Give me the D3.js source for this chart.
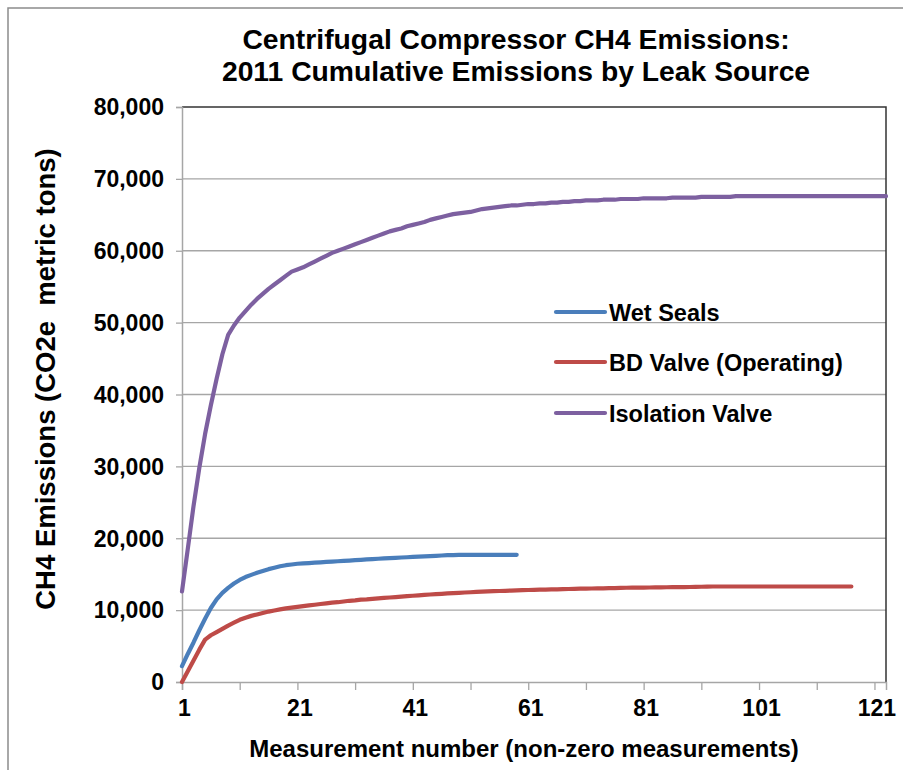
<!DOCTYPE html>
<html>
<head>
<meta charset="utf-8">
<script src="https://cdn.jsdelivr.net/npm/d3@7"></script>
<style>
  html, body { margin: 0; padding: 0; background: #fff; }
  svg text { font-family: "Liberation Sans", Arial, sans-serif; font-weight: bold; fill: #000; }
</style>
</head>
<body>
<svg id="chart" width="903" height="770"></svg>
<script>
// ---------------- DATA ----------------
const titleLines = ["Centrifugal Compressor CH4 Emissions:", "2011 Cumulative Emissions by Leak Source"];
const yAxisTitle = "CH4 Emissions (CO2e\u00a0\u00a0metric tons)";
const xAxisTitle = "Measurement number (non-zero measurements)";
const seriesNames = ["Wet Seals", "BD Valve (Operating)", "Isolation Valve"];
const yTicks = [0, 10000, 20000, 30000, 40000, 50000, 60000, 70000, 80000];
const xTickLabels = [1, 21, 41, 61, 81, 101, 121];

const wetSeals = [
  2200, 3900, 5500, 7200, 8800, 10300, 11500, 12400, 13100, 13700,
  14200, 14600, 14900, 15200, 15450, 15700, 15900, 16100, 16250, 16350,
  16450, 16500, 16550, 16600, 16650, 16700, 16750, 16800, 16850, 16900,
  16950, 17000, 17050, 17100, 17150, 17200, 17240, 17280, 17320, 17360,
  17400, 17440, 17480, 17520, 17560, 17600, 17640, 17660, 17680, 17700,
  17700, 17700, 17700, 17700, 17700, 17700, 17700, 17700, 17700
];

const bdValve = [
  0, 1500, 3000, 4500, 5900, 6500, 6950, 7400, 7850, 8250,
  8650, 8950, 9200, 9400, 9600, 9800, 9950, 10100, 10250, 10350,
  10450, 10550, 10650, 10750, 10850, 10950, 11050, 11100, 11200, 11300,
  11350, 11450, 11500, 11570, 11640, 11700, 11760, 11820, 11880, 11940,
  12000, 12060, 12120, 12170, 12220, 12270, 12320, 12370, 12410, 12450,
  12490, 12530, 12570, 12600, 12630, 12660, 12690, 12720, 12750, 12780,
  12800, 12820, 12840, 12860, 12880, 12900, 12920, 12940, 12960, 12980,
  13000, 13010, 13020, 13030, 13050, 13070, 13100, 13110, 13120, 13130,
  13140, 13150, 13160, 13170, 13180, 13190, 13200, 13210, 13220, 13230,
  13250, 13280, 13290, 13290, 13290, 13290, 13290, 13290, 13290, 13290,
  13290, 13290, 13290, 13290, 13290, 13290, 13290, 13290, 13290, 13290,
  13290, 13290, 13290, 13290, 13290, 13290, 13290
];

const isolationValve = [
  12600, 18500, 24500, 29800, 34500, 38500, 42200, 45600, 48300, 49600,
  50700, 51600, 52500, 53300, 54000, 54700, 55300, 55900, 56500, 57100,
  57400, 57700, 58100, 58500, 58900, 59300, 59700, 60000, 60300, 60600,
  60900, 61200, 61500, 61800, 62100, 62400, 62700, 62900, 63100, 63400,
  63600, 63800, 64000, 64300, 64500, 64700, 64900, 65100, 65200, 65300,
  65400, 65600, 65800, 65900, 66000, 66100, 66200, 66300, 66300, 66400,
  66500, 66500, 66600, 66600, 66700, 66700, 66800, 66800, 66900, 66900,
  67000, 67000, 67000, 67100, 67100, 67100, 67200, 67200, 67200, 67200,
  67300, 67300, 67300, 67300, 67300, 67400, 67400, 67400, 67400, 67400,
  67500, 67500, 67500, 67500, 67500, 67500, 67600, 67600, 67600, 67600,
  67600, 67600, 67600, 67600, 67600, 67600, 67600, 67600, 67600, 67600,
  67600, 67600, 67600, 67600, 67600, 67600, 67600, 67600, 67600, 67600,
  67600, 67600, 67600
];

const seriesColors = ["#4a7ebb", "#be4b48", "#7d60a0"];

// ---------------- LAYOUT ----------------
const svg = d3.select("#chart");
const plot = { left: 182, right: 886, top: 107, bottom: 682 };

const x = d3.scaleLinear().domain([1, 123]).range([plot.left, plot.right]);
const y = d3.scaleLinear().domain([0, 80000]).range([plot.bottom, plot.top]);

// outer chart frame
svg.append("rect")
  .attr("x", 8).attr("y", 8).attr("width", 1000).attr("height", 1000)
  .attr("fill", "none").attr("stroke", "#8c8c8c").attr("stroke-width", 1.5);

// gridlines
svg.append("g")
  .selectAll("line")
  .data(yTicks.filter(d => d > 0 && d < 80000))
  .join("line")
  .attr("x1", plot.left).attr("x2", plot.right)
  .attr("y1", d => y(d)).attr("y2", d => y(d))
  .attr("stroke", "#a6a6a6").attr("stroke-width", 1.3);

// plot border top & right (dark)
svg.append("path")
  .attr("d", `M${plot.left},${plot.top}H${plot.right}V${plot.bottom}`)
  .attr("fill", "none").attr("stroke", "#333").attr("stroke-width", 1.5);

// y axis
const yAxis = d3.axisLeft(y).tickValues(yTicks).tickSize(6).tickPadding(12)
  .tickFormat(d3.format(","));
const gy = svg.append("g").attr("transform", `translate(${plot.left},0)`).call(yAxis);
gy.select(".domain").attr("stroke", "#a6a6a6").attr("stroke-width", 1.5);
gy.selectAll(".tick line").attr("stroke", "#a6a6a6").attr("stroke-width", 1.3);
gy.selectAll(".tick text")
  .style("font-family", '"Liberation Sans", Arial, sans-serif')
  .style("font-weight", "bold").style("font-size", "23px").attr("fill", "#000")
  .attr("dy", "0.34em");

// x axis
const xAxis = d3.axisBottom(x).tickValues(d3.range(1, 123, 10)).tickSize(8)
  .tickFormat(d => xTickLabels.includes(d) ? d : "").tickPadding(10);
const gx = svg.append("g").attr("transform", `translate(0,${plot.bottom})`).call(xAxis);
gx.select(".domain").attr("stroke", "#a6a6a6").attr("stroke-width", 1.5);
gx.selectAll(".tick line").attr("stroke", "#a6a6a6").attr("stroke-width", 1.3);
gx.selectAll(".tick text")
  .style("font-family", '"Liberation Sans", Arial, sans-serif')
  .style("font-weight", "bold").style("font-size", "23px").attr("fill", "#000")
  .attr("dx", 2);

// lines
const line = d3.line().x((d, i) => x(i + 1)).y(d => y(d));
const allSeries = [wetSeals, bdValve, isolationValve];
svg.append("g")
  .selectAll("path")
  .data(allSeries)
  .join("path")
  .attr("d", d => line(d))
  .attr("fill", "none")
  .attr("stroke", (d, i) => seriesColors[i])
  .attr("stroke-width", 4.2)
  .attr("stroke-linecap", "round")
  .attr("stroke-linejoin", "round");

// title
svg.append("text")
  .attr("x", 516).attr("y", 49).attr("text-anchor", "middle")
  .style("font-size", "28.3px")
  .selectAll("tspan").data(titleLines).join("tspan")
  .attr("x", 516).attr("dy", (d, i) => i === 0 ? 0 : 32)
  .text(d => d);

// axis titles
svg.append("text")
  .attr("transform", `translate(55,379) rotate(-90)`)
  .attr("text-anchor", "middle")
  .style("font-size", "27.5px")
  .text(yAxisTitle);

svg.append("text")
  .attr("x", 524).attr("y", 757).attr("text-anchor", "middle")
  .style("font-size", "24px")
  .text(xAxisTitle);

// legend
const legendY = [312, 362, 413];
const lg = svg.append("g").selectAll("g").data(seriesNames).join("g")
  .attr("transform", (d, i) => `translate(556,${legendY[i]})`);
lg.append("line").attr("x1", 0).attr("x2", 49).attr("y1", 0).attr("y2", 0)
  .attr("stroke", (d, i) => seriesColors[i]).attr("stroke-width", 4.2)
  .attr("stroke-linecap", "round");
lg.append("text").attr("x", 53).attr("y", 8.5)
  .style("font-size", "23.5px").text(d => d);
</script>
</body>
</html>
